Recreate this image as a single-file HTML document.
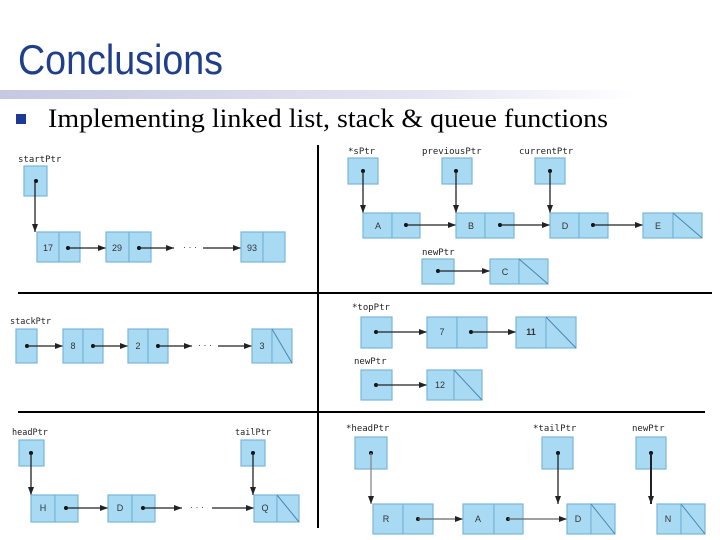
<!DOCTYPE html>
<html><head><meta charset="utf-8"><style>
html,body{margin:0;padding:0;background:#fff;width:720px;height:540px;overflow:hidden}
svg{display:block}
.c{fill:#a9daf3;stroke:#7ab6d8;stroke-width:1.2}
.t{font-family:"DejaVu Sans Mono","Liberation Mono",monospace;font-size:9px;fill:#222}
.v{font-family:"Liberation Sans",sans-serif;font-size:9px;fill:#333;text-anchor:middle}
.a{stroke:#222;stroke-width:1.3;fill:none;marker-end:url(#ah)}
.d{fill:#111}
.n{stroke:#4a87b0;stroke-width:1}
</style></head><body>
<svg width="720" height="540" xmlns="http://www.w3.org/2000/svg">
<defs>
<marker id="ah" markerWidth="8" markerHeight="6" refX="8" refY="3" orient="auto" markerUnits="userSpaceOnUse"><path d="M0,0L8,3L0,6z" fill="#222"/></marker>
<linearGradient id="g" x1="0" x2="1"><stop offset="0" stop-color="#c6c8e2"/><stop offset="0.6" stop-color="#e4e5f2"/><stop offset="0.88" stop-color="#fff"/></linearGradient>
</defs>
<text x="18" y="74" font-family="Liberation Sans Narrow,Liberation Sans,sans-serif" font-size="42" fill="#1f3f8c" textLength="205" lengthAdjust="spacingAndGlyphs">Conclusions</text>
<rect x="0" y="90" width="720" height="9" fill="url(#g)"/>
<rect x="16" y="114" width="10" height="10" fill="#1f3a93"/>
<text x="48" y="127" font-family="Liberation Serif,serif" font-size="26" fill="#000" textLength="560" lengthAdjust="spacingAndGlyphs">Implementing linked list, stack &amp; queue functions</text>

<line x1="318" y1="145" x2="318" y2="528" stroke="#000" stroke-width="2"/>
<line x1="18" y1="293" x2="712" y2="293" stroke="#000" stroke-width="2"/>
<line x1="18" y1="412" x2="705" y2="412" stroke="#000" stroke-width="2"/>

<!-- panel 1 -->
<text class="t" x="18" y="162">startPtr</text>
<rect class="c" x="24" y="166" width="23" height="30"/><circle class="d" cx="36" cy="181" r="2"/>
<path class="a" d="M35,181V232"/>
<rect class="c" x="37" y="232" width="22" height="30"/><rect class="c" x="59" y="232" width="21" height="30"/><text class="v" x="48" y="251">17</text>
<circle class="d" cx="68" cy="248" r="2"/><path class="a" d="M68,248H106"/>
<rect class="c" x="106" y="232" width="23" height="30"/><rect class="c" x="129" y="232" width="22" height="30"/><text class="v" x="117" y="251">29</text>
<circle class="d" cx="139" cy="248" r="2"/><path class="a" d="M139,248H174"/>
<text class="v" x="190" y="250">· · ·</text>
<path class="a" d="M203,248H241"/>
<rect class="c" x="241" y="232" width="22" height="30"/><rect class="c" x="263" y="232" width="22" height="30"/><text class="v" x="252" y="251">93</text>

<!-- panel 2 -->
<text class="t" x="348" y="154">*sPtr</text>
<text class="t" x="422" y="154">previousPtr</text>
<text class="t" x="519" y="154">currentPtr</text>
<rect class="c" x="348" y="158" width="30" height="26"/><circle class="d" cx="363" cy="171" r="2"/><path class="a" d="M363,171V213"/>
<rect class="c" x="442" y="158" width="30" height="26"/><circle class="d" cx="456" cy="171" r="2"/><path class="a" d="M456,171V213"/>
<rect class="c" x="535" y="158" width="30" height="26"/><circle class="d" cx="550" cy="171" r="2"/><path class="a" d="M550,171V213"/>
<rect class="c" x="363" y="213" width="29" height="25"/><rect class="c" x="392" y="213" width="28" height="25"/><text class="v" x="378" y="229">A</text>
<circle class="d" cx="406" cy="225" r="2"/><path class="a" d="M406,225H456"/>
<rect class="c" x="456" y="213" width="29" height="25"/><rect class="c" x="485" y="213" width="29" height="25"/><text class="v" x="471" y="229">B</text>
<circle class="d" cx="500" cy="225" r="2"/><path class="a" d="M500,225H550"/>
<rect class="c" x="550" y="213" width="29" height="25"/><rect class="c" x="579" y="213" width="29" height="25"/><text class="v" x="565" y="229">D</text>
<circle class="d" cx="593" cy="225" r="2"/><path class="a" d="M593,225H643"/>
<rect class="c" x="643" y="213" width="30" height="25"/><rect class="c" x="673" y="213" width="29" height="25"/><line class="n" x1="673" y1="213" x2="702" y2="238"/><text class="v" x="658" y="229">E</text>
<text class="t" x="422" y="255">newPtr</text>
<rect class="c" x="422" y="259" width="32" height="25"/><circle class="d" cx="438" cy="271" r="2"/><path class="a" d="M438,271H490"/>
<rect class="c" x="490" y="259" width="29" height="25"/><rect class="c" x="519" y="259" width="29" height="25"/><line class="n" x1="519" y1="259" x2="548" y2="284"/><text class="v" x="505" y="275">C</text>

<!-- panel 3 -->
<text class="t" x="10" y="324" style="font-size:8.5px">stackPtr</text>
<rect class="c" x="16" y="329" width="21" height="34"/><circle class="d" cx="27" cy="346" r="2"/><path class="a" d="M27,346H63"/>
<rect class="c" x="63" y="329" width="20" height="34"/><rect class="c" x="83" y="329" width="20" height="34"/><text class="v" x="73" y="349">8</text>
<circle class="d" cx="93" cy="346" r="2"/><path class="a" d="M93,346H128"/>
<rect class="c" x="128" y="329" width="20" height="34"/><rect class="c" x="148" y="329" width="20" height="34"/><text class="v" x="138" y="349">2</text>
<circle class="d" cx="158" cy="346" r="2"/><path class="a" d="M158,346H192"/>
<text class="v" x="205" y="348">· · ·</text>
<path class="a" d="M218,346H252"/>
<rect class="c" x="252" y="329" width="20" height="34"/><rect class="c" x="272" y="329" width="20" height="34"/><line class="n" x1="272" y1="329" x2="292" y2="363"/><text class="v" x="262" y="349">3</text>

<text class="t" x="352" y="310">*topPtr</text>
<rect class="c" x="361" y="317" width="31" height="31"/><circle class="d" cx="376" cy="332" r="2"/><path class="a" d="M376,332H427"/>
<rect class="c" x="427" y="317" width="30" height="31"/><rect class="c" x="457" y="317" width="30" height="31"/><text class="v" x="442" y="335">7</text>
<circle class="d" cx="471" cy="332" r="2"/><path class="a" d="M471,332H516"/>
<rect class="c" x="516" y="317" width="30" height="31"/><rect class="c" x="546" y="317" width="30" height="31"/><line class="n" x1="546" y1="317" x2="576" y2="348"/><text class="v" x="531" y="335" style="font-weight:bold">11</text>
<text class="t" x="354" y="364">newPtr</text>
<rect class="c" x="361" y="370" width="31" height="30"/><circle class="d" cx="376" cy="385" r="2"/><path class="a" d="M376,385H427"/>
<rect class="c" x="427" y="370" width="27" height="30"/><rect class="c" x="454" y="370" width="28" height="30"/><line class="n" x1="454" y1="370" x2="482" y2="400"/><text class="v" x="440" y="388">12</text>

<!-- panel 4 -->
<text class="t" x="12" y="435" style="font-size:8.5px">headPtr</text>
<rect class="c" x="19" y="440" width="25" height="26"/><circle class="d" cx="31" cy="453" r="2"/><path class="a" d="M31,453V495"/>
<text class="t" x="235" y="435" style="font-size:8.5px">tailPtr</text>
<rect class="c" x="241" y="440" width="24" height="26"/><circle class="d" cx="253" cy="453" r="2"/><path class="a" d="M253,453V495"/>
<rect class="c" x="31" y="495" width="24" height="27"/><rect class="c" x="55" y="495" width="23" height="27"/><text class="v" x="43" y="511">H</text>
<circle class="d" cx="66" cy="508" r="2"/><path class="a" d="M66,508H108"/>
<rect class="c" x="108" y="495" width="24" height="27"/><rect class="c" x="132" y="495" width="23" height="27"/><text class="v" x="120" y="511">D</text>
<circle class="d" cx="143" cy="508" r="2"/><path class="a" d="M143,508H182"/>
<text class="v" x="197" y="510">· · ·</text>
<path class="a" d="M212,508H254"/>
<rect class="c" x="254" y="495" width="23" height="27"/><rect class="c" x="277" y="495" width="22" height="27"/><line class="n" x1="277" y1="495" x2="299" y2="522"/><text class="v" x="265" y="511">Q</text>

<text class="t" x="346" y="431">*headPtr</text>
<rect class="c" x="355" y="437" width="32" height="32"/><circle class="d" cx="371" cy="453" r="2"/><path class="a" d="M371,453V504" style="stroke:#888"/>
<text class="t" x="533" y="431">*tailPtr</text>
<rect class="c" x="542" y="437" width="31" height="32"/><circle class="d" cx="558" cy="453" r="2"/><path class="a" d="M558,453V504"/>
<text class="t" x="632" y="431">newPtr</text>
<rect class="c" x="636" y="437" width="30" height="32"/><circle class="d" cx="651" cy="453" r="2"/><path class="a" d="M651,453V504" style="stroke-width:2"/>
<rect class="c" x="373" y="504" width="30" height="30"/><rect class="c" x="403" y="504" width="30" height="30"/><text class="v" x="386" y="522">R</text>
<circle class="d" cx="418" cy="519" r="2"/><path class="a" d="M418,519H463" style="stroke:#666"/>
<rect class="c" x="463" y="504" width="31" height="30"/><rect class="c" x="494" y="504" width="29" height="30"/><text class="v" x="478" y="522">A</text>
<circle class="d" cx="508" cy="519" r="2"/><path class="a" d="M508,519H567" style="stroke:#666"/>
<rect class="c" x="567" y="504" width="24" height="30"/><rect class="c" x="591" y="504" width="24" height="30"/><line class="n" x1="591" y1="504" x2="615" y2="534"/><text class="v" x="578" y="522">D</text>
<rect class="c" x="657" y="504" width="24" height="30"/><rect class="c" x="681" y="504" width="24" height="30"/><line class="n" x1="681" y1="504" x2="705" y2="534"/><text class="v" x="668" y="522">N</text>
</svg>
</body></html>
